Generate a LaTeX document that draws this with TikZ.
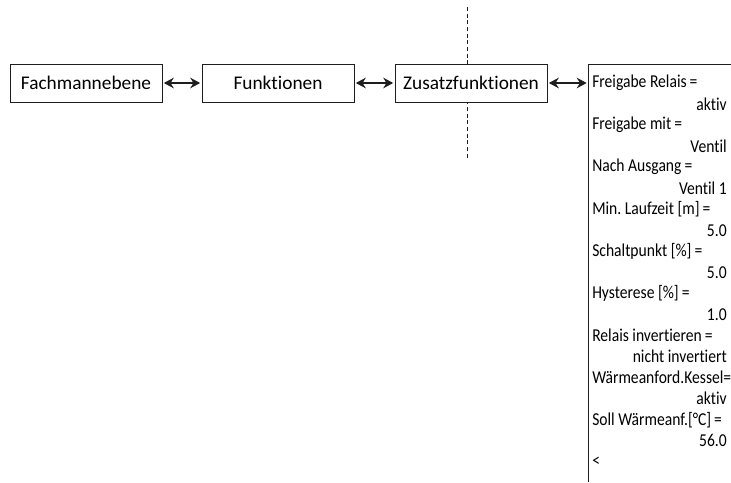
\documentclass[tikz,border=0pt]{standalone}
\usepackage{fontspec}
\setmainfont[Ligatures=NoCommon]{Carlito}
\newfontfamily\panelfont[FakeStretch=0.86, Ligatures=NoCommon]{Carlito}
\usepackage{tikz}
\usetikzlibrary{arrows.meta, positioning}
\definecolor{mydark}{RGB}{30,30,30}
\frenchspacing
\tikzset{
  menubox/.style={rectangle, draw=mydark, fill=white, line width=0.75pt,
    minimum width=114pt, minimum height=28.5pt, inner sep=0pt,
    font=\fontsize{14.5}{16}\selectfont},
  dblarrow/.style={{Stealth[length=7.5pt,width=8pt,inset=2.5pt]}-{Stealth[length=7.5pt,width=8pt,inset=2.5pt]},
    line width=0.9pt, color=mydark, shorten <=1pt, shorten >=1pt},
  panelline/.style={line width=0.75pt, color=mydark},
  cutline/.style={dashed, dash pattern=on 3pt off 2pt, line width=0.6pt, color=mydark},
  entry/.style={inner sep=0pt, font=\panelfont\fontsize{13.6}{15}\selectfont}
}
\begin{document}
\begin{tikzpicture}[x=0.75pt, y=-0.75pt]
  \useasboundingbox (0,0) rectangle (731,482);
  % dashed cut line behind Zusatzfunktionen
  \draw[cutline] (467,7) -- (467,159);
  % menu chain
  \node[menubox] (fach) at (86,83) {Fachmannebene};
  \node[menubox] (funk) at (278,83) {Funktionen};
  \node[menubox] (zusatz) at (471,83) {Zusatzfunktionen};
  % parameter panel (cut off at right and bottom)
  \coordinate (pnltop) at (588,64);
  \coordinate (pnlin) at (588,83);
  \draw[panelline] (731,64) -- (pnltop) -- (588,482);
  \draw[dblarrow] (fach) -- (funk);
  \draw[dblarrow] (funk) -- (zusatz);
  \draw[dblarrow] (zusatz) -- (pnlin);
  % panel entries: label left, value right
  \foreach \lbl/\val [count=\i from 0] in {
      Freigabe Relais\,=/aktiv,
      Freigabe mit\,=/Ventil,
      Nach Ausgang\,=/Ventil 1,
      Min. Laufzeit [m]\,=/5.0,
      Schaltpunkt [\%]\,=/5.0,
      Hysterese [\%]\,=/1.0,
      Relais invertieren\,=/nicht invertiert,
      Wärmeanford.Kessel=/aktiv,
      Soll Wärmeanf.[°C]\,=/56.0} {
    \node[entry, anchor=west] (lbl\i) at (592,83+42.1*\i) {\lbl};
    \node[entry, anchor=east] (val\i) at (727,104+42.1*\i) {\val};
  }
  \node[entry, anchor=west] (back) at (592,462) {<};
\end{tikzpicture}
\end{document}
